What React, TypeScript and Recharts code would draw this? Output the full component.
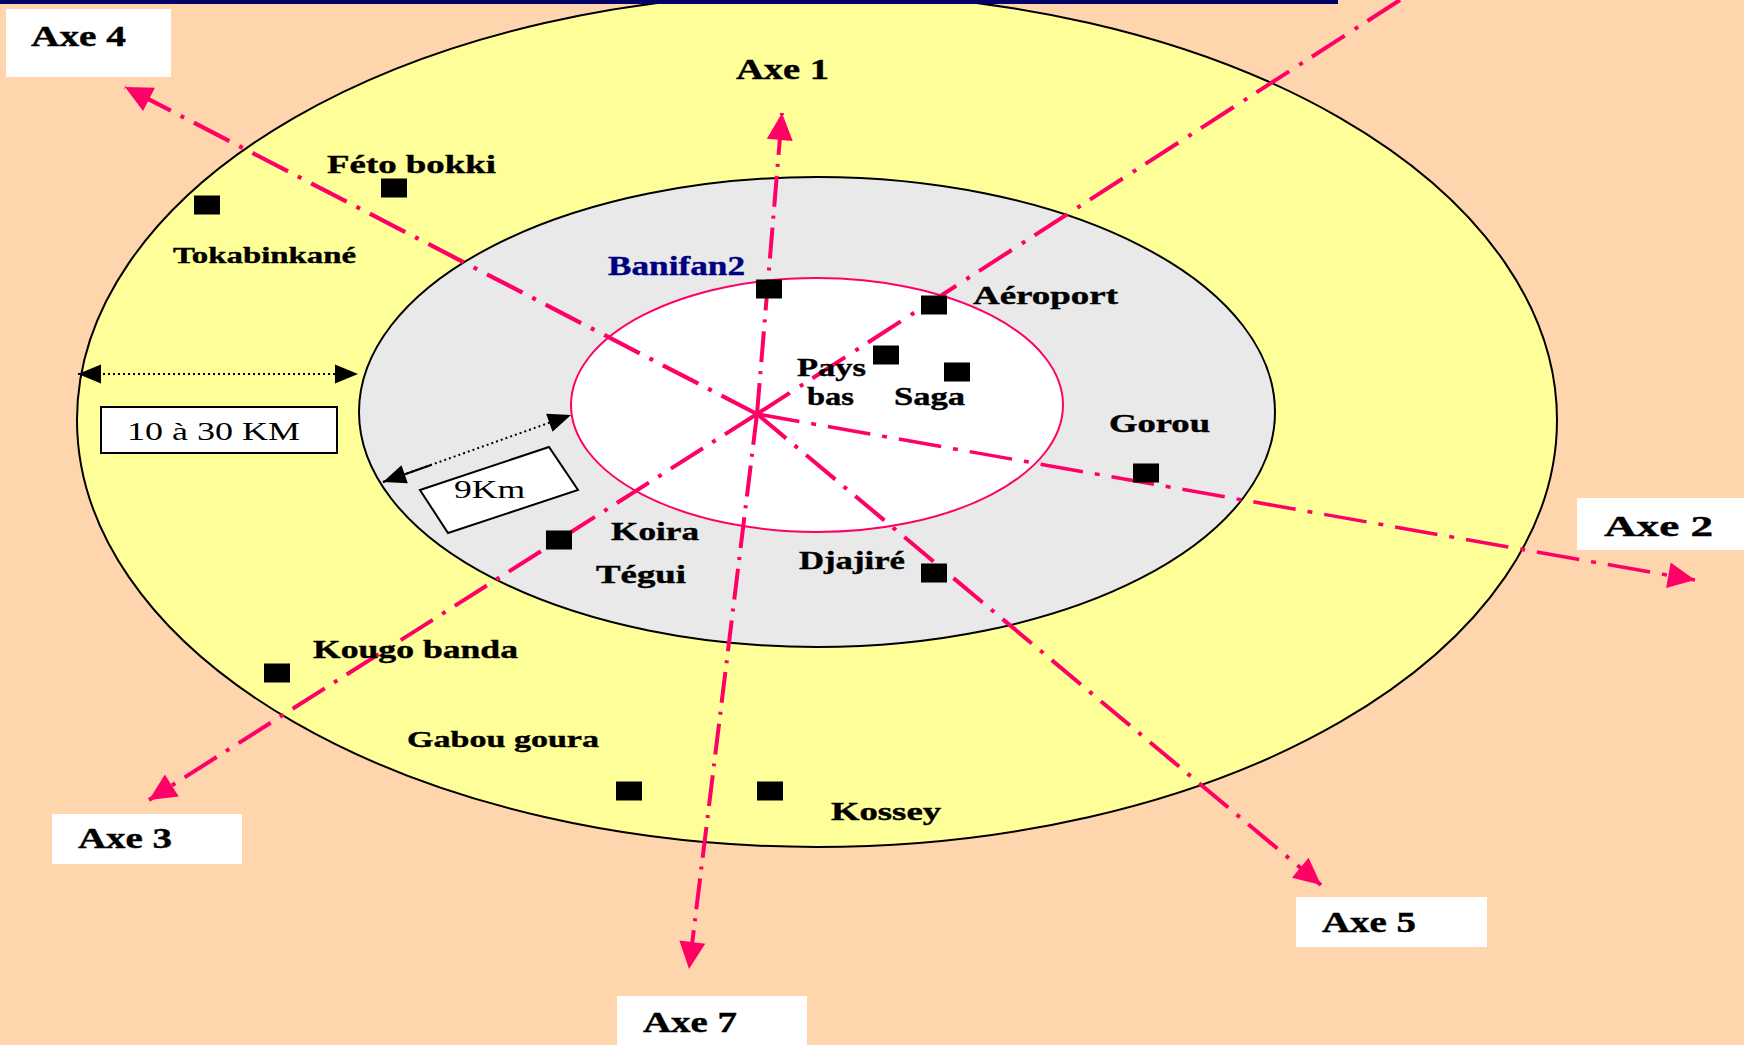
import { ScatterChart, Scatter, XAxis, YAxis } from 'recharts';

const WIDTH = 1744;
const HEIGHT = 1045;
const PINK = '#ff0066';

// the chart's x and y axes run over the 1744x1045 drawing
const rings = [
  { x: 817, y: 420, rx: 740, ry: 427 },
  { x: 817, y: 412, rx: 458, ry: 235 },
  { x: 817, y: 405, rx: 246, ry: 127 },
];
const ringFills = ['#ffff99', '#e9e9e9', '#ffffff'];
const ringStrokes = ['#000000', '#000000', PINK];

const hub = { x: 757, y: 414 };
const axisEnds = [
  { x: 782, y: 113, arrow: true },
  { x: 1695, y: 580, arrow: true },
  { x: 149, y: 800, arrow: true },
  { x: 125, y: 87, arrow: true },
  { x: 1321, y: 885, arrow: true },
  { x: 1400, y: 0, arrow: false },
  { x: 689, y: 969, arrow: true },
];
const axisDashes = ['31 9 3 9', '43 12 5 12', '38 11 4 11', '40 11 4 11', '38 11 4 11', '39 12 4 11', '31 9 3 9'];
const axisWidths = [4, 3.5, 4, 4.2, 4, 4, 4];

const whiteBoxes = [
  { x: 6, y: 9, x2: 171, y2: 77 },
  { x: 1577, y: 498, x2: 1744, y2: 550 },
  { x: 52, y: 814, x2: 242, y2: 864 },
  { x: 1296, y: 897, x2: 1487, y2: 947 },
  { x: 617, y: 996, x2: 807, y2: 1045 },
];
const framedBox = { x: 101, y: 407, x2: 337, y2: 453 };
const topBar = { x: 0, y: 0, x2: 1338, y2: 4 };
const slantedBox = [
  { x: 420, y: 490 },
  { x: 549, y: 447 },
  { x: 578, y: 490 },
  { x: 448, y: 533 },
];

const villages = [
  { x: 394, y: 188 },
  { x: 207, y: 205 },
  { x: 769, y: 289 },
  { x: 934, y: 305 },
  { x: 886, y: 355 },
  { x: 957, y: 372 },
  { x: 1146, y: 473 },
  { x: 559, y: 540 },
  { x: 934, y: 573 },
  { x: 277, y: 673 },
  { x: 629, y: 791 },
  { x: 770, y: 791 },
];

const spans = [
  [{ x: 78, y: 374 }, { x: 358, y: 374 }],
  [{ x: 383, y: 482 }, { x: 571, y: 415 }],
];
// the start of the 9Km arrow is solid in the picture
const spanStub = [{ x: 383, y: 482 }, { x: 431, y: 465 }];

const labels = [
  { text: 'Axe 1', x: 736, y: 79, w: 93, size: 29 },
  { text: 'Axe 2', x: 1604, y: 536, w: 109, size: 30 },
  { text: 'Axe 3', x: 78, y: 848, w: 94, size: 29 },
  { text: 'Axe 4', x: 31, y: 46, w: 95, size: 29 },
  { text: 'Axe 5', x: 1322, y: 932, w: 94, size: 29 },
  { text: 'Axe 7', x: 643, y: 1032, w: 94, size: 29 },
  { text: 'Féto bokki', x: 327, y: 173, w: 169, size: 26 },
  { text: 'Tokabinkané', x: 173, y: 263, w: 183, size: 24 },
  { text: 'Banifan2', x: 608, y: 275, w: 137, size: 27, color: '#000080' },
  { text: 'Aéroport', x: 973, y: 304, w: 145, size: 26 },
  { text: 'Pays', x: 797, y: 376, w: 69, size: 26 },
  { text: 'bas', x: 807, y: 405, w: 47, size: 26 },
  { text: 'Saga', x: 894, y: 405, w: 71, size: 26 },
  { text: 'Gorou', x: 1109, y: 432, w: 101, size: 26 },
  { text: 'Koira', x: 611, y: 540, w: 88, size: 26 },
  { text: 'Tégui', x: 596, y: 583, w: 90, size: 26 },
  { text: 'Djajiré', x: 799, y: 569, w: 106, size: 26 },
  { text: 'Kougo banda', x: 313, y: 658, w: 205, size: 26 },
  { text: 'Gabou goura', x: 407, y: 747, w: 192, size: 24 },
  { text: 'Kossey', x: 831, y: 820, w: 110, size: 26 },
  { text: '10 à 30 KM', x: 127, y: 440, w: 173, size: 26, plain: true },
  { text: '9Km', x: 454, y: 498, w: 71, size: 26, plain: true },
];

const withAngle = (from: any, to: any) => {
  const angle = (Math.atan2(to.y - from.y, to.x - from.x) * 180) / Math.PI;
  return { ...to, angle };
};

function ringShape({ cx, cy, payload, index }: any) {
  return <ellipse cx={cx} cy={cy} rx={payload.rx} ry={payload.ry} fill={ringFills[index]} stroke={ringStrokes[index]} strokeWidth={2} />;
}

function boxShape(fill: string, stroke?: string) {
  return ({ cx, cy, payload }: any) => (
    <rect x={cx} y={cy} width={payload.x2 - payload.x} height={payload.y2 - payload.y} fill={fill} stroke={stroke ?? 'none'} strokeWidth={2} />
  );
}

function slantShape({ cx, cy, index }: any) {
  if (index !== 0) return <g />;
  const pts = slantedBox.map((p) => `${cx + p.x - slantedBox[0].x},${cy + p.y - slantedBox[0].y}`).join(' ');
  return <polygon points={pts} fill="#ffffff" stroke="#000000" strokeWidth={2} />;
}

function arrowShape(color: string, length: number, width: number) {
  return ({ cx, cy, payload }: any) => {
    if (payload.angle === undefined) return <g />;
    return (
      <polygon
        points={`0,0 ${-length},${-width / 2} ${-length},${width / 2}`}
        transform={`translate(${cx} ${cy}) rotate(${payload.angle})`}
        fill={color}
      />
    );
  };
}

function squareShape({ cx, cy }: any) {
  return <rect x={cx - 13} y={cy - 9.5} width={26} height={19} fill="#000000" />;
}

function labelShape({ cx, cy, payload }: any) {
  const color = payload.color ?? '#000000';
  return (
    <text
      x={cx}
      y={cy}
      textLength={payload.w}
      lengthAdjust="spacingAndGlyphs"
      fontFamily="'Liberation Serif', serif"
      fontWeight={payload.plain ? 400 : 700}
      fontSize={payload.size}
      fill={color}
      stroke={payload.plain ? 'none' : color}
      strokeWidth={0.4}
    >
      {payload.text}
    </text>
  );
}

const noMark = () => <g />;

export default function App() {
  return (
    <div style={{ position: 'fixed', left: 0, top: 0, width: WIDTH, height: HEIGHT, background: '#ffd5ae', overflow: 'hidden' }}>
      <ScatterChart width={WIDTH} height={HEIGHT} margin={{ top: 0, right: 0, bottom: 0, left: 0 }}>
        <XAxis type="number" dataKey="x" domain={[0, WIDTH]} hide />
        <YAxis type="number" dataKey="y" domain={[0, HEIGHT]} reversed hide />

        <Scatter data={rings} shape={ringShape} isAnimationActive={false} />
        <Scatter data={[topBar]} shape={boxShape('#000066')} isAnimationActive={false} />
        <Scatter data={whiteBoxes} shape={boxShape('#ffffff')} isAnimationActive={false} />
        <Scatter data={[framedBox]} shape={boxShape('#ffffff', '#000000')} isAnimationActive={false} />
        <Scatter data={slantedBox} shape={slantShape} isAnimationActive={false} />

        {axisEnds.map((end, i) => (
          <Scatter
            key={i}
            data={[hub, end.arrow ? withAngle(hub, end) : end]}
            line={{ stroke: PINK, strokeWidth: axisWidths[i], strokeDasharray: axisDashes[i] }}
            shape={arrowShape(PINK, 27, 26)}
            isAnimationActive={false}
          />
        ))}

        {spans.map(([a, b], i) => (
          <Scatter
            key={i}
            data={[withAngle(b, a), withAngle(a, b)]}
            line={{ stroke: '#000000', strokeWidth: 2, strokeDasharray: '2 3' }}
            shape={arrowShape('#000000', 23, 19)}
            isAnimationActive={false}
          />
        ))}
        <Scatter data={spanStub} line={{ stroke: '#000000', strokeWidth: 2 }} shape={noMark} isAnimationActive={false} />

        <Scatter data={villages} shape={squareShape} isAnimationActive={false} />
        <Scatter data={labels} shape={labelShape} isAnimationActive={false} />
      </ScatterChart>
    </div>
  );
}
